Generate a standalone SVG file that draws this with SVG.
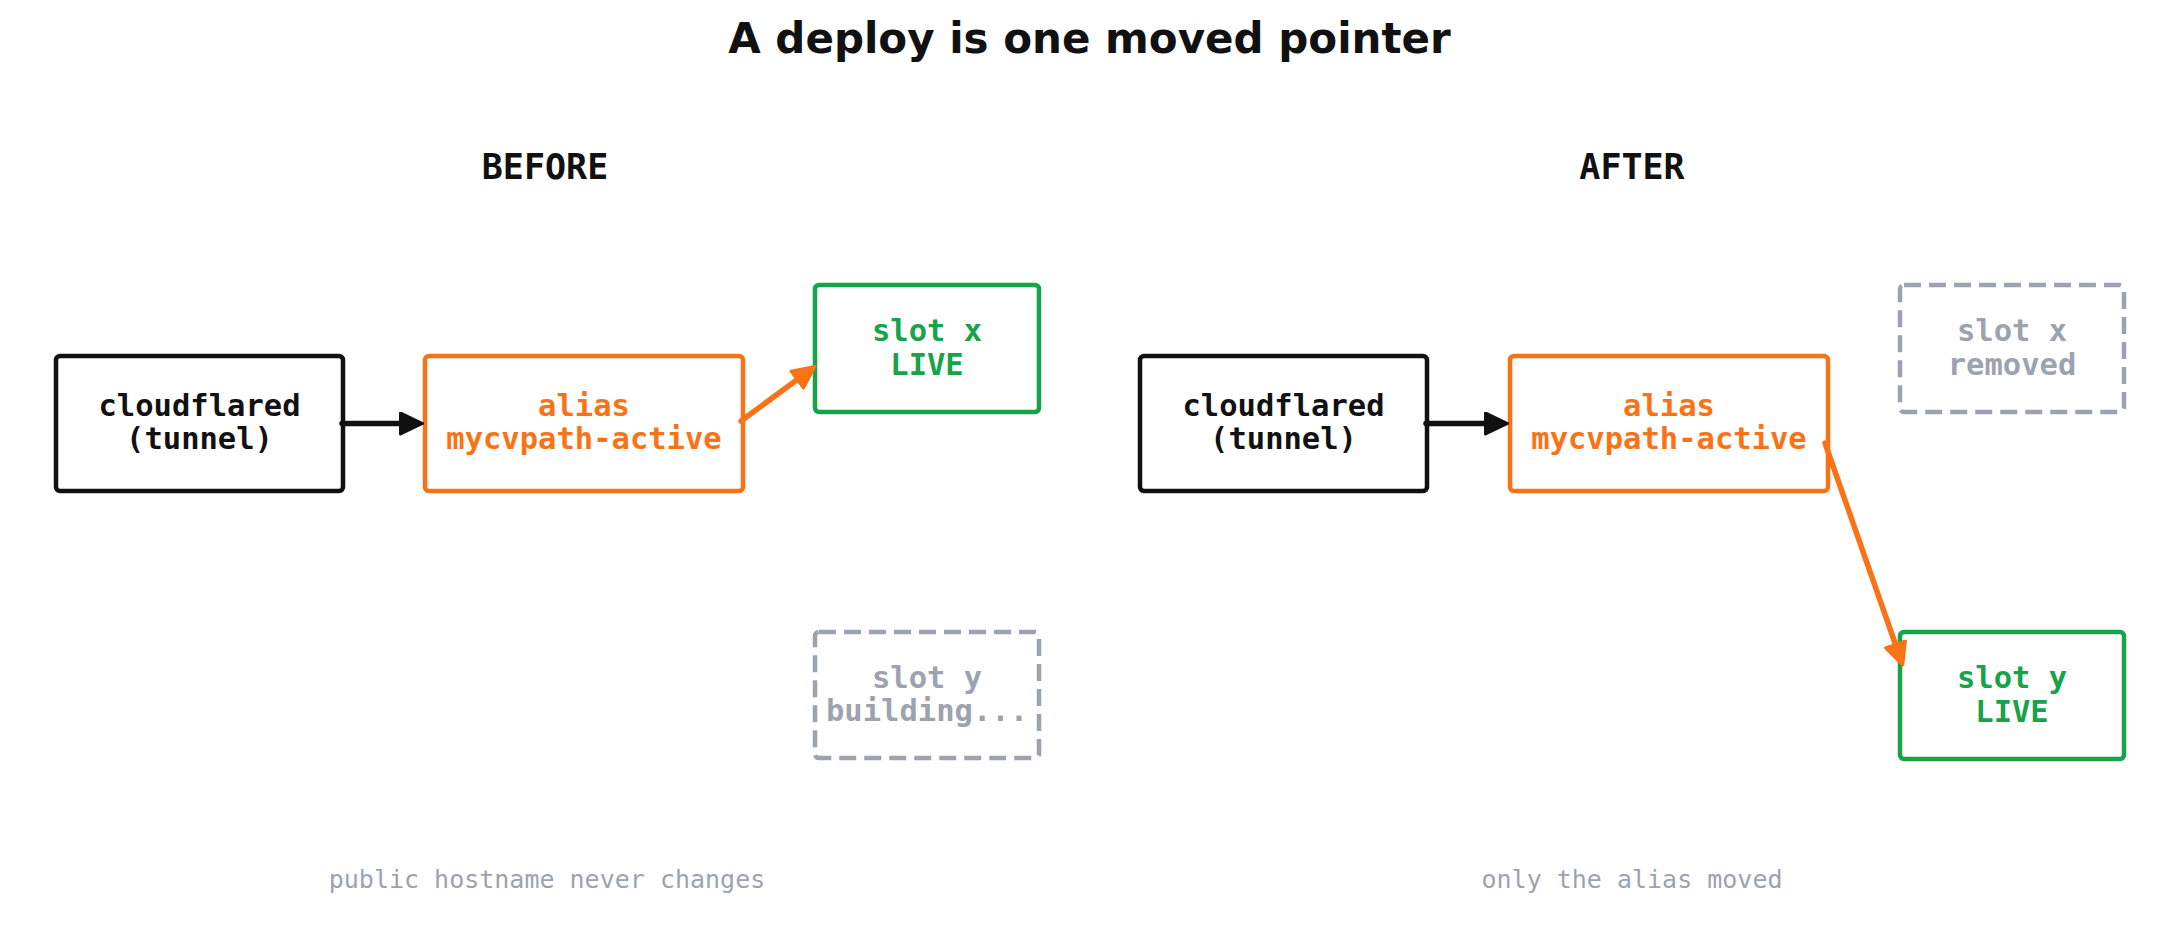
<svg xmlns="http://www.w3.org/2000/svg" width="2179" height="948" viewBox="0 0 2179 948">
<style>
.title{font-family:"DejaVu Sans","Liberation Sans",sans-serif;font-weight:bold;font-size:42px;fill:#111;text-anchor:middle}
.head{font-family:"DejaVu Sans Mono","Liberation Mono",monospace;font-weight:bold;font-size:35px;fill:#111;text-anchor:middle}
.foot{font-family:"DejaVu Sans Mono","Liberation Mono",monospace;font-size:25px;fill:#9ca3af;text-anchor:middle}
.lbl{font-family:"DejaVu Sans Mono","Liberation Mono",monospace;font-weight:bold;font-size:30.5px;text-anchor:middle}
.box{fill:#fff;stroke-width:4.5}
.k{stroke:#111}.kt{fill:#111}
.o{stroke:#f97316}.ot{fill:#f97316}
.g{stroke:#16a34a}.gt{fill:#16a34a}
.d{stroke:#9ca3af;stroke-dasharray:17 8}.dt{fill:#9ca3af}
.conn{fill:none;stroke-width:5.5;stroke-linecap:round}
</style>
<defs>
<marker id="ahk" viewBox="0 0 25 24" refX="0" refY="12" markerWidth="25" markerHeight="24" markerUnits="userSpaceOnUse" orient="auto">
<path d="M1.5,1.5 L23.5,12 L1.5,22.5 z" fill="#111" stroke="#111" stroke-width="3" stroke-linejoin="round"/>
</marker>
<marker id="aho" viewBox="0 0 25 24" refX="0" refY="12" markerWidth="25" markerHeight="24" markerUnits="userSpaceOnUse" orient="auto">
<path d="M1.5,1.5 L23.5,12 L1.5,22.5 z" fill="#f97316" stroke="#f97316" stroke-width="3" stroke-linejoin="round"/>
</marker>
</defs>
<rect width="2179" height="948" fill="#fff"/>
<text class="title" x="1089.5" y="53">A deploy is one moved pointer</text>
<text class="head" x="545" y="179">BEFORE</text>
<text class="head" x="1632" y="179">AFTER</text>

<g id="before-cloudflared">
<rect class="box k" x="56" y="356" width="287" height="135" rx="4"/>
<text class="lbl kt" x="199.5" y="416">cloudflared</text>
<text class="lbl kt" x="199.5" y="449">(tunnel)</text>
</g>
<g id="before-alias">
<rect class="box o" x="425" y="356" width="318" height="135" rx="4"/>
<text class="lbl ot" x="584" y="416">alias</text>
<text class="lbl ot" x="584" y="449">mycvpath-active</text>
</g>
<g id="before-slot-x">
<rect class="box g" x="815" y="285" width="224" height="127" rx="4"/>
<text class="lbl gt" x="927" y="341">slot x</text>
<text class="lbl gt" x="927" y="375">LIVE</text>
</g>
<g id="before-slot-y">
<rect class="box d" x="815" y="632" width="224" height="126" rx="4"/>
<text class="lbl dt" x="927" y="688">slot y</text>
<text class="lbl dt" x="927" y="721">building...</text>
</g>

<g id="after-cloudflared">
<rect class="box k" x="1140" y="356" width="287" height="135" rx="4"/>
<text class="lbl kt" x="1283.5" y="416">cloudflared</text>
<text class="lbl kt" x="1283.5" y="449">(tunnel)</text>
</g>
<g id="after-alias">
<rect class="box o" x="1510" y="356" width="318" height="135" rx="4"/>
<text class="lbl ot" x="1669" y="416">alias</text>
<text class="lbl ot" x="1669" y="449">mycvpath-active</text>
</g>
<g id="after-slot-x">
<rect class="box d" x="1900" y="285" width="224" height="127" rx="4"/>
<text class="lbl dt" x="2012" y="341">slot x</text>
<text class="lbl dt" x="2012" y="375">removed</text>
</g>
<g id="after-slot-y">
<rect class="box g" x="1900" y="632" width="224" height="127" rx="4"/>
<text class="lbl gt" x="2012" y="688">slot y</text>
<text class="lbl gt" x="2012" y="722">LIVE</text>
</g>

<g id="connectors">
<line class="conn" x1="342" y1="423.5" x2="399" y2="423.5" stroke="#111" marker-end="url(#ahk)"/>
<line class="conn" x1="1426" y1="423.5" x2="1484" y2="423.5" stroke="#111" marker-end="url(#ahk)"/>
<line class="conn" x1="741" y1="421" x2="796" y2="380.5" stroke="#f97316" marker-end="url(#aho)"/>
<line class="conn" x1="1825" y1="443" x2="1895" y2="643" stroke="#f97316" marker-end="url(#aho)"/>
</g>

<text class="foot" x="547" y="888">public hostname never changes</text>
<text class="foot" x="1632" y="888">only the alias moved</text>
</svg>
